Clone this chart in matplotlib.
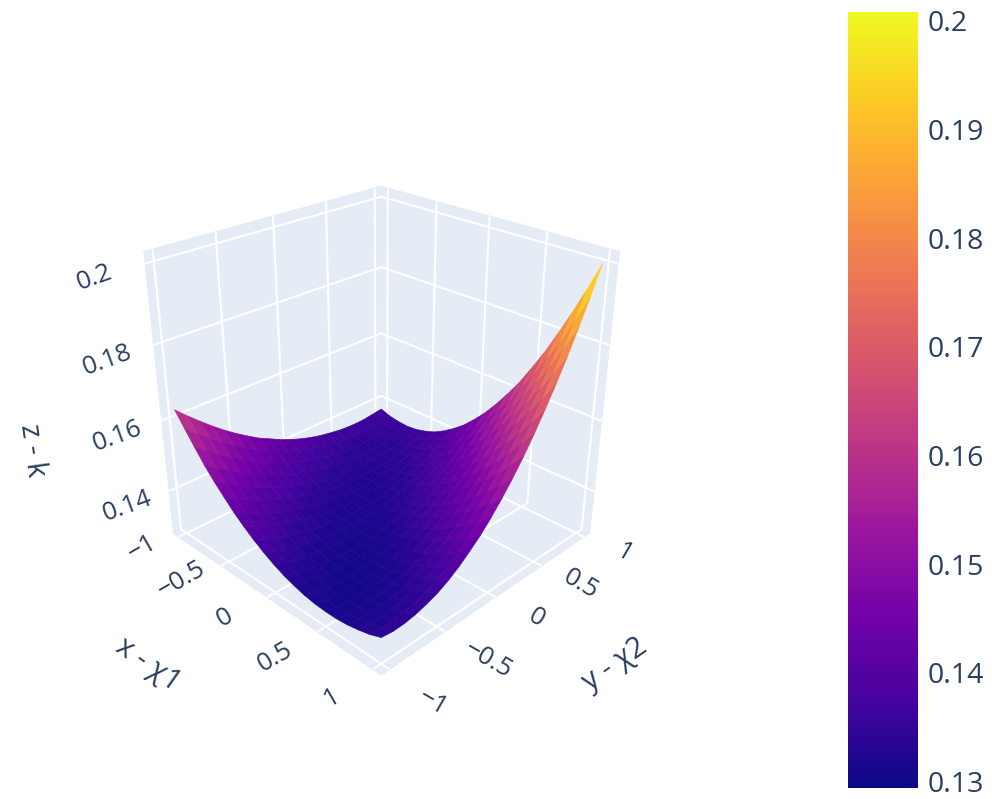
import numpy as np
import matplotlib
matplotlib.use('Agg')
import matplotlib.pyplot as plt
from matplotlib.colors import LinearSegmentedColormap, Normalize
from matplotlib.cm import ScalarMappable

W, H = 992, 799
TEXT_COLOR = '#2a3f5f'
PANE_COLOR = '#E5ECF6'

x1_values = [-1.0, -0.9, -0.8, -0.7, -0.6, -0.5, -0.4, -0.3, -0.2, -0.1, 0.0,
             0.1, 0.2, 0.3, 0.4, 0.5, 0.6, 0.7, 0.8, 0.9, 1.0]
x2_values = [-1.0, -0.9, -0.8, -0.7, -0.6, -0.5, -0.4, -0.3, -0.2, -0.1, 0.0,
             0.1, 0.2, 0.3, 0.4, 0.5, 0.6, 0.7, 0.8, 0.9, 1.0]

# k, одна строка на x1, столбцы по x2
k_values = [
    [.1630, .1600, .1572, .1545, .1520, .1497, .1476, .1456, .1440, .1424, .1410, .1398, .1388, .1380, .1374, .1369, .1366, .1365, .1366, .1370, .1374],
    [.1592, .1563, .1537, .1512, .1490, .1469, .1449, .1432, .1417, .1402, .1390, .1380, .1371, .1364, .1359, .1355, .1354, .1354, .1355, .1359, .1364],
    [.1555, .1529, .1504, .1482, .1461, .1442, .1425, .1409, .1395, .1383, .1372, .1363, .1355, .1351, .1347, .1344, .1343, .1346, .1348, .1353, .1359],
    [.1519, .1496, .1474, .1453, .1435, .1418, .1402, .1387, .1375, .1365, .1356, .1349, .1343, .1339, .1336, .1336, .1337, .1339, .1344, .1350, .1357],
    [.1488, .1467, .1446, .1428, .1410, .1395, .1382, .1369, .1359, .1350, .1343, .1338, .1333, .1331, .1330, .1331, .1334, .1338, .1344, .1351, .1360],
    [.1460, .1439, .1422, .1404, .1390, .1376, .1364, .1354, .1345, .1339, .1333, .1329, .1327, .1326, .1328, .1330, .1334, .1340, .1348, .1357, .1368],
    [.1433, .1415, .1399, .1384, .1370, .1358, .1349, .1340, .1333, .1329, .1325, .1323, .1323, .1324, .1327, .1332, .1338, .1346, .1355, .1367, .1379],
    [.1410, .1393, .1379, .1365, .1354, .1345, .1336, .1329, .1324, .1322, .1320, .1320, .1322, .1325, .1330, .1337, .1346, .1355, .1367, .1381, .1396],
    [.1389, .1375, .1361, .1350, .1341, .1332, .1327, .1322, .1318, .1318, .1318, .1320, .1324, .1330, .1337, .1346, .1357, .1370, .1383, .1399, .1417],
    [.1371, .1357, .1346, .1336, .1329, .1322, .1318, .1315, .1315, .1315, .1318, .1323, .1329, .1337, .1346, .1358, .1371, .1386, .1402, .1421, .1441],
    [.1355, .1343, .1333, .1325, .1318, .1314, .1312, .1311, .1312, .1315, .1320, .1327, .1336, .1345, .1358, .1372, .1388, .1405, .1425, .1447, .1471],
    [.1342, .1331, .1323, .1317, .1312, .1309, .1309, .1310, .1313, .1318, .1325, .1334, .1345, .1358, .1373, .1389, .1408, .1429, .1453, .1477, .1504],
    [.1332, .1323, .1316, .1311, .1307, .1307, .1308, .1311, .1316, .1324, .1333, .1344, .1358, .1373, .1392, .1411, .1433, .1457, .1484, .1511, .1542],
    [.1324, .1316, .1310, .1306, .1305, .1306, .1309, .1314, .1321, .1331, .1343, .1357, .1373, .1392, .1413, .1436, .1461, .1488, .1518, .1550, .1584],
    [.1319, .1312, .1307, .1304, .1305, .1307, .1312, .1319, .1329, .1340, .1355, .1372, .1391, .1413, .1436, .1463, .1491, .1522, .1555, .1592, .1629],
    [.1317, .1311, .1307, .1307, .1308, .1312, .1319, .1328, .1340, .1354, .1371, .1390, .1412, .1438, .1465, .1494, .1526, .1561, .1599, .1639, .1681],
    [.1317, .1312, .1310, .1309, .1312, .1318, .1326, .1337, .1352, .1368, .1388, .1410, .1436, .1463, .1494, .1528, .1564, .1603, .1644, .1688, .1735],
    [.1320, .1316, .1314, .1316, .1320, .1327, .1338, .1351, .1367, .1386, .1409, .1434, .1463, .1493, .1528, .1565, .1606, .1648, .1694, .1744, .1796],
    [.1326, .1322, .1322, .1324, .1330, .1339, .1351, .1366, .1385, .1407, .1432, .1461, .1491, .1526, .1565, .1605, .1650, .1698, .1748, .1802, .1860],
    [.1334, .1331, .1331, .1334, .1342, .1353, .1366, .1384, .1405, .1429, .1457, .1489, .1523, .1562, .1604, .1649, .1698, .1750, .1805, .1865, .1928],
    [.1346, .1342, .1343, .1348, .1357, .1368, .1384, .1404, .1428, .1454, .1485, .1520, .1558, .1600, .1646, .1696, .1749, .1806, .1867, .1932, .2000],
]

axis_ticks = [-1, -0.5, 0, 0.5, 1]
z_ticks = [0.14, 0.16, 0.18, 0.2]
colorbar_ticks = [0.13, 0.14, 0.15, 0.16, 0.17, 0.18, 0.19, 0.2]
colorbar_labels = ['0.13', '0.14', '0.15', '0.16', '0.17', '0.18', '0.19', '0.2']

plasma_colors = ['#0d0887', '#46039f', '#7201a8', '#9c179e', '#bd3786',
                 '#d8576b', '#ed7953', '#fb9f3a', '#fdca26', '#f0f921']

plt.rcParams['font.family'] = ['Open Sans', 'DejaVu Sans']
plt.rcParams['grid.color'] = 'white'
plt.rcParams['grid.linewidth'] = 1.5

cmap = LinearSegmentedColormap.from_list('plotly_plasma', plasma_colors)
norm = Normalize(vmin=0.1294, vmax=0.2008)


def put_text(px, py, s, size, rot):
    fig.text(px / W, 1 - py / H, s, fontsize=size, rotation=rot, color=TEXT_COLOR,
             ha='center', va='center', rotation_mode='anchor')


fig = plt.figure(figsize=(W / 100, H / 100), dpi=100)
ax = fig.add_axes([-9 / W, 7 / H, 760 / W, 760 / H], projection='3d')
ax.set_proj_type('persp', focal_length=0.26)
ax.view_init(elev=27, azim=-45)
ax.set_box_aspect((1, 1, 1), zoom=0.695)

X, Y = np.meshgrid(x1_values, x2_values, indexing='ij')
Z = np.array(k_values)
face_k = (Z[:-1, :-1] + Z[1:, :-1] + Z[:-1, 1:] + Z[1:, 1:]) / 4
surf = ax.plot_surface(X, Y, Z, facecolors=cmap(norm(face_k)), rstride=1, cstride=1,
                       linewidth=0.4, antialiased=True, shade=False)

ax.set_xlim(-1.07, 1.07, view_margin=0)
ax.set_ylim(-1.07, 1.07, view_margin=0)
ax.set_zlim(0.1275, 0.2028, view_margin=0)
ax.set_xticks(axis_ticks)
ax.set_yticks(axis_ticks)
ax.set_zticks(z_ticks)
ax.set_xticklabels([])
ax.set_yticklabels([])
ax.set_zticklabels([])
ax.tick_params(axis='both', length=0, color='none')
for axis in (ax.xaxis, ax.yaxis, ax.zaxis):
    axis.set_pane_color(PANE_COLOR)
    axis.pane.set_edgecolor(PANE_COLOR)
    axis.line.set_color('none')
    axis._axinfo['tick']['inward_factor'] = 0
    axis._axinfo['tick']['outward_factor'] = 0

# подписи ставим по пикселям картинки
tick_size = 18.5
for (px, py), s in zip([(127, 506), (117, 436), (107, 360), (95, 278)], ['0.14', '0.16', '0.18', '0.2']):
    put_text(px, py, s, tick_size, 20)
for (px, py), s in zip([(142, 548), (182, 580), (225, 618), (275, 657), (332, 698)],
                       ['\u22121', '\u22120.5', '0', '0.5', '1']):
    put_text(px, py, s, tick_size, 30)
for (px, py), s in zip([(433, 703), (488, 660), (536, 618), (581, 584), (624, 553)],
                       ['\u22121', '\u22120.5', '0', '0.5', '1']):
    put_text(px, py, s, tick_size, -30)
put_text(148, 665, 'x - \u03c71', 21, -35)
put_text(615, 665, 'y - \u03c72', 21, 35)
put_text(32, 450, 'z - k', 21, -82)

cax = fig.add_axes([848 / W, 1 - 788 / H, 70 / W, 776 / H])
cb = fig.colorbar(ScalarMappable(norm=norm, cmap=cmap), cax=cax)
cb.outline.set_visible(False)
cb.set_ticks(colorbar_ticks)
cb.set_ticklabels(colorbar_labels)
cax.tick_params(length=0, pad=7, labelsize=20.5, labelcolor=TEXT_COLOR)

fig.savefig('out.png', dpi=100)
